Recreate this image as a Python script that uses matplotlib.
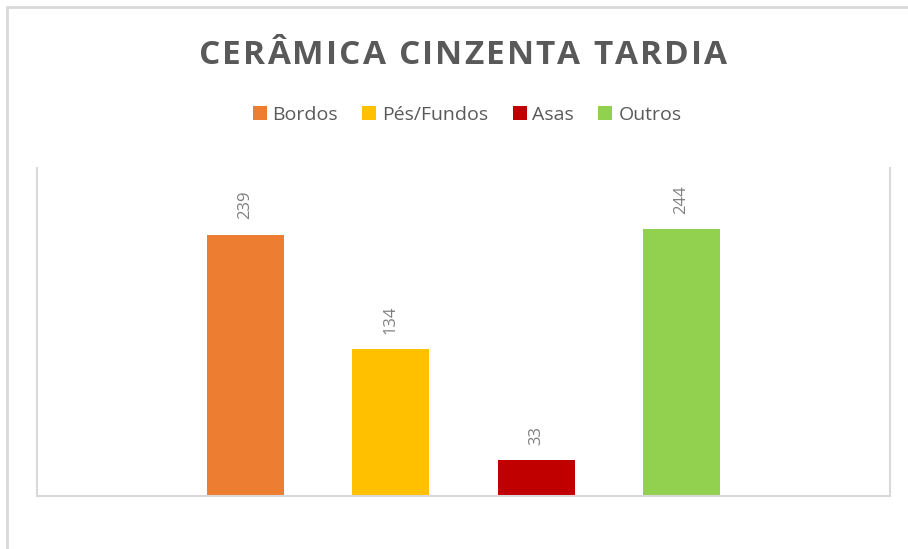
import matplotlib
matplotlib.use('Agg')
import matplotlib.pyplot as plt
from matplotlib.patches import Rectangle, Patch
from matplotlib.font_manager import FontProperties, findfont
from matplotlib.ft2font import FT2Font

categories = ['Bordos', 'Pés/Fundos', 'Asas', 'Outros']
values = [239, 134, 33, 244]
colors = ['#ED7D31', '#FFC000', '#C00000', '#92D050']
title = 'CERÂMICA CINZENTA TARDIA'

W, H = 908, 549
DPI = 100
fig = plt.figure(figsize=(W / DPI, H / DPI), dpi=DPI)
plt.rcParams['font.family'] = ['Open Sans', 'DejaVu Sans']

# outer chart border (only top / left visible in the crop)
fig.patches.append(Rectangle((7 / W, -0.1), 1.2, 1 - 7 / H + 0.1, transform=fig.transFigure,
                             fill=False, edgecolor='#d9d9d9', linewidth=2))

ax = fig.add_axes([37 / W, 1 - 496 / H, (890 - 37) / W, (496 - 168) / H])
x = list(range(len(categories)))
bars = ax.bar(x, values, width=0.53, color=colors)
ax.set_xlim(-1.433, 4.433)
ax.set_ylim(0, 300)
ax.set_xticks([])
ax.set_yticks([])
ax.spines['top'].set_visible(False)
for s in ['left', 'right', 'bottom']:
    ax.spines[s].set_color('#d9d9d9')
    ax.spines[s].set_linewidth(1.5)

for xi, v in zip(x, values):
    ax.annotate(str(v), (xi, v), xytext=(0, 11), textcoords='offset points',
                rotation=90, ha='center', va='bottom', color='#808080', fontsize=12)

# title with letter spacing, drawn char by char
tprop = FontProperties(family='Open Sans', weight='bold', size=24)
ft = FT2Font(findfont(tprop))
ft.set_size(24, DPI)
adv = []
for c in title:
    g = ft.load_char(ord(c))
    adv.append(g.linearHoriAdvance / 65536)
natural = sum(adv)
target = 528
spacing = (target - natural) / (len(title) - 1)
xpos = 463 - target / 2
for c, a in zip(title, adv):
    fig.text(xpos / W, 1 - 64 / H, c, fontproperties=tprop, color='#595959',
             ha='left', va='baseline')
    xpos += a + spacing

handles = [Patch(facecolor=c, edgecolor='none') for c in colors]
fig.legend(handles, categories, loc='center', bbox_to_anchor=(467 / W, 1 - 115 / H), ncol=4,
           frameon=False, fontsize=14, labelcolor='#595959', handlelength=0.72,
           handleheight=0.72, handletextpad=0.3, columnspacing=1.25, borderpad=0)

fig.savefig('out.png', dpi=DPI)
